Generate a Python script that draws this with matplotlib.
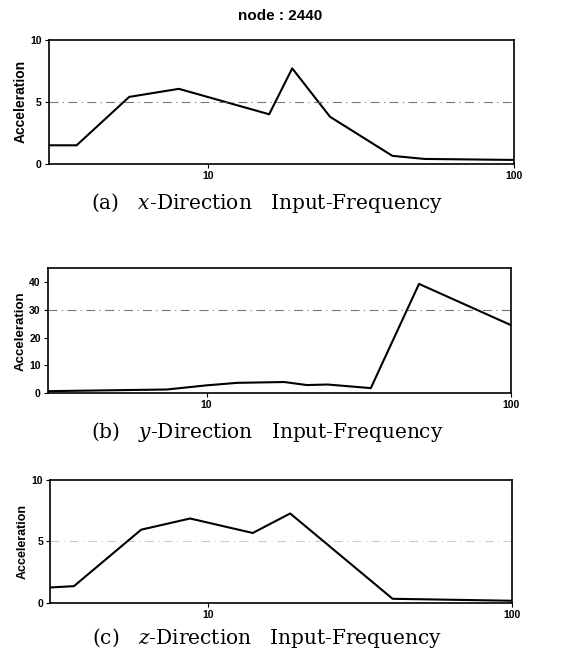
import numpy as np
import matplotlib.pyplot as plt
from matplotlib.ticker import FixedLocator, NullLocator

# frequency / acceleration
freq_x = [3.0, 3.7, 5.5, 8.0, 15.8, 18.8, 25.0, 40.0, 51.0, 100.0]
acc_x = [1.5, 1.5, 5.4, 6.05, 4.0, 7.7, 3.8, 0.65, 0.4, 0.32]

freq_y = [3.0, 7.4, 10.0, 12.6, 18.0, 21.4, 25.0, 34.7, 50.0, 100.0]
acc_y = [0.7, 1.3, 2.8, 3.7, 4.0, 2.9, 3.1, 1.8, 39.4, 24.6]

freq_z = [3.0, 3.6, 6.0, 8.7, 14.0, 18.6, 40.5, 100.0]
acc_z = [1.24, 1.35, 5.95, 6.86, 5.68, 7.27, 0.32, 0.16]

y_ticks_x = [0, 5, 10]
y_ticks_y = [0, 10, 20, 30, 40]
y_ticks_z = [0, 5, 10]
x_ticks = [10, 100]

captions = ["(a)   $x$-Direction   Input-Frequency",
            "(b)   $y$-Direction   Input-Frequency",
            "(c)   $z$-Direction   Input-Frequency"]

plt.rcParams['font.family'] = ['Liberation Sans', 'DejaVu Sans']
plt.rcParams['mathtext.fontset'] = 'custom'
plt.rcParams['mathtext.it'] = 'DejaVu Serif:italic'
plt.rcParams['mathtext.rm'] = 'DejaVu Serif'

fig = plt.figure(figsize=(5.61, 6.53), dpi=100)

#axes boxes [left, bottom, width, height] in figure fractions
boxes = [[0.087, 0.749, 0.829, 0.190],
         [0.085, 0.398, 0.825, 0.191],
         [0.089, 0.077, 0.823, 0.188]]
caption_y = [0.689, 0.338, 0.023]
label_size = [10, 9.5, 9]

panels = [(freq_x, acc_x, y_ticks_x, 10, 5),
          (freq_y, acc_y, y_ticks_y, 45, 30),
          (freq_z, acc_z, y_ticks_z, 10, 5)]

for i, (f, a, yt, ymax, gl) in enumerate(panels):
    ax = fig.add_axes(boxes[i])
    ax.plot(f, a, color='black', linewidth=1.5)
    ax.set_xscale('log')
    ax.set_xlim(3, 100)
    ax.set_ylim(0, ymax)
    ax.xaxis.set_major_locator(FixedLocator(x_ticks))
    ax.xaxis.set_minor_locator(NullLocator())
    ax.set_xticklabels([str(t) for t in x_ticks], fontsize=7.5, fontweight='bold')
    ax.set_yticks(yt)
    ax.set_yticklabels([str(t) for t in yt], fontsize=7.5, fontweight='bold')
    ax.tick_params(length=3, width=0.8, pad=2)
    ax.axhline(gl, color='#555555', linewidth=0.8, linestyle=(0, (8, 4, 1, 4)),
               alpha=0.8 if i < 2 else 0.3)
    ax.set_ylabel('Acceleration', fontsize=label_size[i], fontweight='bold', labelpad=2)
    for s in ax.spines.values():
        s.set_linewidth(1.2)
    fig.text(0.476, caption_y[i], captions[i], ha='center', va='center',
             fontsize=14.5, family='DejaVu Serif')

fig.text(0.5, 0.975, 'node : 2440', ha='center', va='center',
         fontsize=11, fontweight='bold')

fig.savefig('out.png', dpi=100)
